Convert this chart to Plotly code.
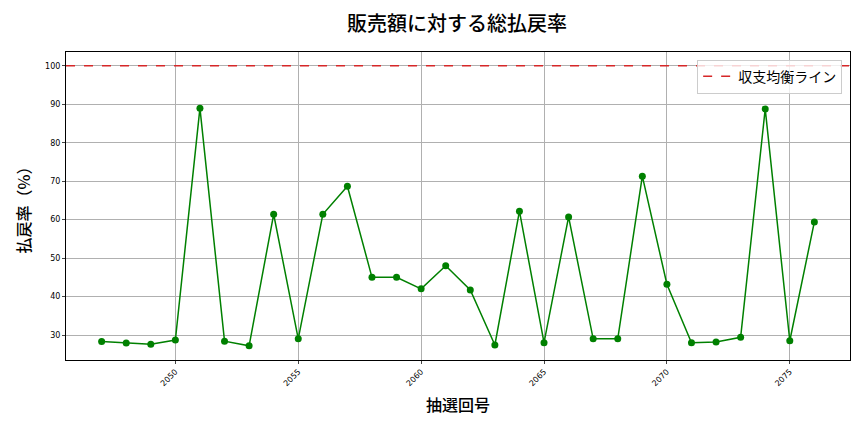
import plotly.graph_objects as go

# 抽選回号と総払戻率
draws = list(range(2047, 2077))
rates = [28.3, 27.9, 27.6, 28.7, 89.0, 28.4, 27.2, 61.4, 29.0, 61.4,
         68.7, 45.0, 45.0, 42.0, 48.0, 41.7, 27.4, 62.2, 28.0, 60.7,
         29.0, 29.0, 71.3, 43.2, 28.0, 28.2, 29.4, 88.8, 28.5, 59.4]
breakeven = 100
xticks = [2050, 2055, 2060, 2065, 2070, 2075]
yticks = [30, 40, 50, 60, 70, 80, 90, 100]

font = "Noto Sans CJK JP"

fig = go.Figure()
fig.add_trace(go.Scatter(
    x=draws, y=rates, mode="lines+markers",
    line=dict(color="green", width=1.5),
    marker=dict(color="green", size=7),
    showlegend=False,
))
fig.add_trace(go.Scatter(
    x=[2045.55, 2077.45], y=[breakeven, breakeven], mode="lines",
    line=dict(color="#d62728", width=1.5, dash="dash"),
    name="収支均衡ライン",
))

# page body has an 8px margin, so the figure is a bit smaller
fig.update_layout(
    width=856, height=424,
    margin=dict(l=58, r=14, t=44, b=72),
    paper_bgcolor="white", plot_bgcolor="white",
    font=dict(family=font, color="black"),
    title=dict(text="販売額に対する総払戻率", x=0.5245, xanchor="center",
               y=0.963, yanchor="middle", font=dict(size=20, family=font, weight=500)),
    legend=dict(x=0.99, y=0.975, xanchor="right", yanchor="top",
                bordercolor="#cccccc", borderwidth=1, bgcolor="rgba(255,255,255,0.8)",
                font=dict(size=14, family=font)),
)
fig.update_xaxes(
    range=[2045.55, 2077.45], tickvals=xticks, tickangle=-45,
    tickfont=dict(size=8, family="DejaVu Sans", color="black"),
    title=dict(text="抽選回号", font=dict(size=16, family=font, weight=500), standoff=12),
    showgrid=True, gridcolor="#b0b0b0", gridwidth=0.8,
    showline=True, linecolor="black", linewidth=1, mirror=True,
    ticks="outside", ticklen=3, zeroline=False,
)
fig.update_yaxes(
    range=[23.5, 103.6], tickvals=yticks,
    tickfont=dict(size=8, family="DejaVu Sans", color="black"),
    title=dict(text="払戻率（%）", font=dict(size=16, family=font, weight=500), standoff=10),
    showgrid=True, gridcolor="#b0b0b0", gridwidth=0.8,
    showline=True, linecolor="black", linewidth=1, mirror=True,
    ticks="outside", ticklen=3, zeroline=False,
)

fig.write_html("out.html")
